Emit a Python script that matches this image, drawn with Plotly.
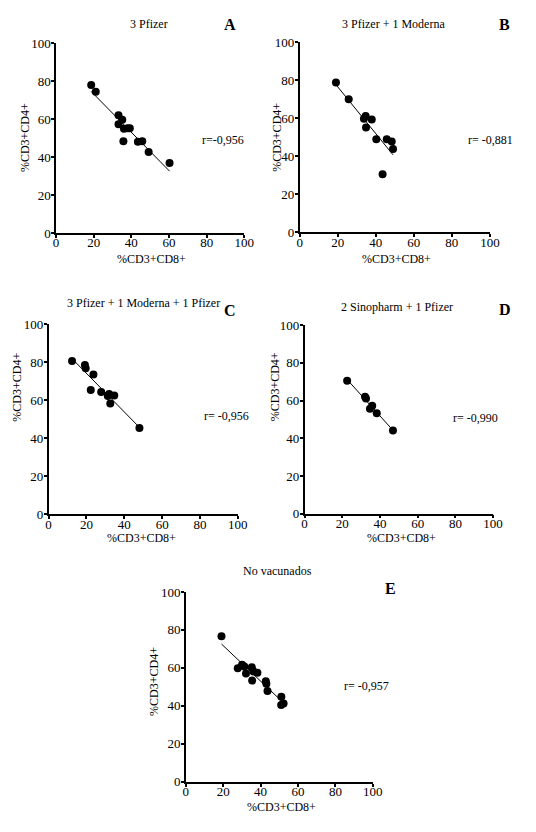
import numpy as np
import plotly.graph_objects as go

W, H = 536, 832

# ---- data ----
a_x = [18.7, 21.1, 33.2, 33.2, 35.2, 36.1, 35.8, 38.0, 39.2, 43.5, 45.8, 49.2, 60.3]
a_y = [78.1, 74.5, 62.1, 57.4, 59.7, 55.0, 48.4, 55.3, 55.3, 48.1, 48.4, 42.8, 36.9]

b_x = [19.1, 25.8, 34.7, 33.8, 34.9, 37.9, 40.3, 45.8, 48.4, 49.1, 43.6]
b_y = [78.7, 69.9, 61.1, 59.7, 55.1, 59.2, 48.9, 48.9, 47.7, 43.7, 30.5]

c_x = [12.4, 19.2, 19.6, 23.7, 22.3, 27.8, 31.3, 32.0, 34.7, 32.6, 48.0]
c_y = [80.7, 78.6, 76.9, 73.6, 65.5, 64.5, 62.4, 63.4, 62.6, 58.4, 45.5]

d_x = [22.6, 32.1, 32.6, 35.9, 34.7, 38.3, 46.9]
d_y = [70.5, 62.0, 61.1, 57.3, 55.7, 53.3, 44.1]

e_x = [19.1, 27.8, 30.1, 31.3, 32.2, 35.3, 35.5, 36.2, 38.3, 42.8, 43.1, 43.7, 51.1, 51.0, 52.3]
e_y = [76.7, 59.8, 61.6, 60.7, 57.1, 60.3, 53.3, 58.1, 57.4, 52.9, 51.6, 47.8, 44.8, 40.5, 41.2]

titles = ["3 Pfizer", "3 Pfizer + 1 Moderna", "3 Pfizer + 1 Moderna + 1 Pfizer",
          "2 Sinopharm + 1 Pfizer", "No vacunados"]
letters = ["A", "B", "C", "D", "E"]
r_texts = ["r=-0,956", "r= -0,881", "r= -0,956", "r= -0,990", "r= -0,957"]
tick_vals = [0, 20, 40, 60, 80, 100]
tick_text = ["0", "20", "40", "60", "80", "100"]
x_title = "%CD3+CD8+"
y_title = "%CD3+CD4+"

series = [(a_x, a_y), (b_x, b_y), (c_x, c_y), (d_x, d_y), (e_x, e_y)]

# ---- layout geometry (pixels) ----
boxes = [  # x0, x1, ytop, ybottom
    (54.3, 247.3, 37.0, 230.3),
    (304.0, 499.0, 35.7, 229.3),
    (46.7, 240.7, 323.3, 516.7),
    (309.0, 502.3, 324.0, 516.0),
    (187.3, 379.0, 595.7, 789.0),
]
title_pos = [(150, 17), (400, 17), (144, 301), (404, 305), (281, 574)]
letter_pos = [(233, 18), (514, 18), (233, 309), (514, 308), (397, 592)]
r_pos = [(202, 135), (474, 135), (204, 416), (459, 419), (347, 691)]
xt_pos = [(152, 257), (403, 257), (142, 541), (408, 541), (285, 815)]
yt_pos = [(22, 133), (280, 133), (14, 387), (279, 387), (154, 687)]

FONT = "Liberation Serif"

def px(x):
    return x / W

def py(y):
    return 1 - y / H

fig = go.Figure()
layout = dict(
    width=W, height=H, margin=dict(l=0, r=0, t=0, b=0),
    paper_bgcolor="white", plot_bgcolor="white", showlegend=False,
    font=dict(family=FONT, size=13, color="black"),
)
annotations = []

for i, ((xs, ys), (x0, x1, yt, yb)) in enumerate(zip(series, boxes)):
    n = "" if i == 0 else str(i + 1)
    xa, ya = "x" + n, "y" + n
    xs_arr = np.array(xs)
    ys_arr = np.array(ys)
    k, b = np.polyfit(xs_arr, ys_arr, 1)
    lx = np.array([xs_arr.min(), xs_arr.max()])
    fig.add_trace(go.Scatter(x=lx, y=k * lx + b, mode="lines",
                             line=dict(color="black", width=1),
                             xaxis=xa, yaxis=ya, hoverinfo="skip"))
    fig.add_trace(go.Scatter(x=xs, y=ys, mode="markers",
                             marker=dict(color="black", size=8),
                             xaxis=xa, yaxis=ya))
    axcommon = dict(range=[0, 100], tickvals=tick_vals, ticktext=tick_text,
                    showline=True, linecolor="black", linewidth=1.5,
                    ticks="outside", ticklen=3, tickwidth=1.5, tickcolor="black",
                    showgrid=False, zeroline=False,
                    tickfont=dict(family=FONT, size=13, color="black"),
                    fixedrange=True)
    layout["xaxis" + n] = dict(axcommon, domain=[px(x0), px(x1)], anchor=ya,
                               ticklabelstandoff=-6)
    layout["yaxis" + n] = dict(axcommon, domain=[py(yb), py(yt)], anchor=xa,
                               ticklabelstandoff=-2)

    def ann(text, pos, size=12, bold=False, xanchor="center", angle=0):
        t = "<b>%s</b>" % text if bold else text
        annotations.append(dict(text=t, x=px(pos[0]), y=py(pos[1]),
                                xref="paper", yref="paper", showarrow=False,
                                xanchor=xanchor, yanchor="middle", textangle=angle,
                                font=dict(family=FONT, size=size, color="black")))

    ann(titles[i], title_pos[i])
    ann(letters[i], letter_pos[i], size=16, bold=True)
    ann(r_texts[i], r_pos[i], xanchor="left")
    ann(x_title, xt_pos[i])
    ann(y_title, yt_pos[i], angle=-90)

layout["annotations"] = annotations
fig.update_layout(**layout)
fig.write_html("out.html")
